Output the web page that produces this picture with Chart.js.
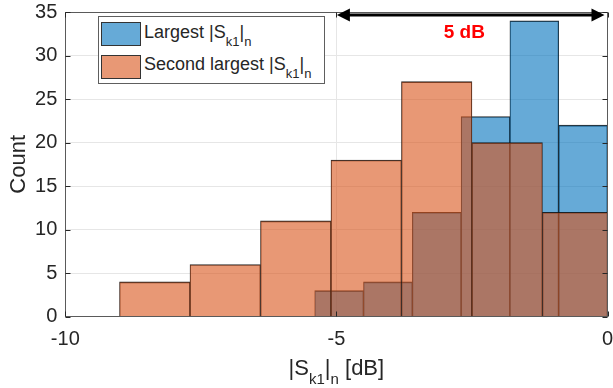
<!DOCTYPE html>
<html>
<head>
<meta charset="utf-8">
<script src="https://cdn.jsdelivr.net/npm/chart.js@4.4.0/dist/chart.umd.min.js"></script>
<style>
html,body{margin:0;padding:0;background:#fff;}
#wrap{position:relative;width:613px;height:388px;overflow:hidden;font-family:"Liberation Sans",Arial,Helvetica,sans-serif;color:#262626;}
#c{position:absolute;left:0;top:0;}
#legend{position:absolute;left:98px;top:16px;width:227px;height:68px;border:1px solid #5e5e5e;background:#fff;box-sizing:border-box;}
.sw{position:absolute;left:101px;width:40px;height:24px;box-sizing:border-box;border:1px solid #333;}
.item{position:absolute;left:144px;white-space:nowrap;font-size:18px;line-height:18px;}
.item sub{font-size:13px;vertical-align:-8px;line-height:0;}
#xtitle{position:absolute;top:357px;white-space:nowrap;font-size:22px;line-height:22px;transform:translateX(-50%);}
#xtitle sub{font-size:15px;vertical-align:-9px;line-height:0;}
</style>
</head>
<body>
<div id="wrap">
  <canvas id="c" width="613" height="388"></canvas>
  <div id="legend"></div>
  <div class="sw" id="sw1" style="top:22px;"></div>
  <div class="item" style="top:22.5px;">Largest |S<sub>k1</sub>|<sub>n</sub></div>
  <div class="sw" id="sw2" style="top:55px;"></div>
  <div class="item" style="top:54.8px;">Second largest |S<sub>k1</sub>|<sub>n</sub></div>
  <div id="xtitle">|S<sub>k1</sub>|<sub>n</sub> [dB]</div>
</div>
<script>
// ---- data ----
const largestEdges  = [-5.4, -4.5, -3.6, -2.7, -1.8, -0.9, 0];
const largestCounts = [3, 4, 12, 23, 34, 22];
const secondEdges   = [-9.0, -7.7, -6.4, -5.1, -3.8, -2.5, -1.2, 0.1];
const secondCounts  = [4, 6, 11, 18, 27, 20, 12];
const xTickValues = [-10, -5, 0];
const yTickValues = [0, 5, 10, 15, 20, 25, 30, 35];
const spanFrom = -5, spanTo = 0;   // "5 dB" arrow span
const spanLabel = '5 dB';

const blueFill = 'rgba(0,114,189,0.6)';
const orangeFill = 'rgba(217,83,25,0.6)';
document.getElementById('sw1').style.background = blueFill;
document.getElementById('sw2').style.background = orangeFill;

function toBars(edges, counts) {
  return counts.map((c, i) => ({ x: (edges[i] + edges[i + 1]) / 2, y: c }));
}

const boxPlugin = {
  id: 'box',
  afterDatasetsDraw(chart) {
    const { ctx, chartArea: a } = chart;
    const xs = chart.scales.x, ys = chart.scales.y;
    const L = Math.round(a.left) + 0.5, R = Math.round(a.right) - 0.5;
    const T = Math.round(a.top) + 0.5, B = Math.round(a.bottom) - 0.5;
    ctx.save();
    ctx.strokeStyle = '#5a5a5a';
    ctx.lineWidth = 1;
    ctx.strokeRect(L, T, R - L, B - T);
    const tl = 5;
    ctx.strokeStyle = '#262626';
    ctx.beginPath();
    yTickValues.forEach(v => {
      const y = Math.round(ys.getPixelForValue(v)) + 0.5;
      ctx.moveTo(L, y); ctx.lineTo(L + tl, y);
      ctx.moveTo(R, y); ctx.lineTo(R - tl, y);
    });
    xTickValues.forEach(v => {
      const x = Math.round(xs.getPixelForValue(v)) + 0.5;
      ctx.moveTo(x, B); ctx.lineTo(x, B - tl);
      ctx.moveTo(x, T); ctx.lineTo(x, T + tl);
    });
    ctx.stroke();
    ctx.restore();
  },
  afterDraw(chart) {
    const { ctx } = chart;
    const xs = chart.scales.x, ys = chart.scales.y;
    const x1 = xs.getPixelForValue(spanFrom) + 0.5;
    const x2 = xs.getPixelForValue(spanTo) - 3;
    const y = ys.getPixelForValue(34.65);
    const hl = 13, hw = 6.5;
    ctx.save();
    ctx.strokeStyle = '#000';
    ctx.fillStyle = '#000';
    ctx.lineWidth = 3;
    ctx.beginPath();
    ctx.moveTo(x1 + hl - 1, y); ctx.lineTo(x2 - hl + 1, y);
    ctx.stroke();
    ctx.beginPath();
    ctx.moveTo(x1, y); ctx.lineTo(x1 + hl, y - hw); ctx.lineTo(x1 + hl, y + hw); ctx.closePath();
    ctx.moveTo(x2, y); ctx.lineTo(x2 - hl, y - hw); ctx.lineTo(x2 - hl, y + hw); ctx.closePath();
    ctx.fill();
    ctx.fillStyle = '#ff0000';
    ctx.font = 'bold 19px "Liberation Sans", Arial, sans-serif';
    ctx.textAlign = 'center';
    ctx.textBaseline = 'middle';
    ctx.fillText(spanLabel, xs.getPixelForValue(-2.64), ys.getPixelForValue(32.6));
    ctx.restore();
  }
};

const barBorder = { top: 1, left: 0.6, right: 0.6, bottom: 0 };

const chart = new Chart(document.getElementById('c'), {
  type: 'bar',
  data: {
    datasets: [
      {
        label: 'Second largest |Sk1|n',
        data: toBars(secondEdges, secondCounts),
        xAxisID: 'x2',
        backgroundColor: orangeFill,
        borderColor: 'rgba(20,20,20,0.9)',
        borderWidth: barBorder,
        borderSkipped: false,
        barPercentage: 1,
        categoryPercentage: 1,
        grouped: false,
        clip: 0
      },
      {
        label: 'Largest |Sk1|n',
        data: toBars(largestEdges, largestCounts),
        xAxisID: 'x',
        backgroundColor: blueFill,
        borderColor: 'rgba(20,20,20,0.9)',
        borderWidth: barBorder,
        borderSkipped: false,
        barPercentage: 1,
        categoryPercentage: 1,
        grouped: false,
        clip: 0
      }
    ]
  },
  options: {
    responsive: false,
    animation: false,
    devicePixelRatio: 1,
    layout: { padding: { top: 12, right: 5.5, left: 0, bottom: 0 } },
    plugins: { legend: { display: false }, tooltip: { enabled: false } },
    scales: {
      x: {
        type: 'linear',
        min: -10, max: 0,
        offset: false,
        afterBuildTicks: s => { s.ticks = xTickValues.map(v => ({ value: v })); },
        afterFit: s => { s.height = 71.3; s.paddingLeft = 0; s.paddingRight = 0; },
        grid: { color: '#e6e6e6', drawTicks: false, offset: false },
        border: { display: false },
        ticks: { color: '#262626', font: { size: 20, family: '"Liberation Sans", Arial, sans-serif' }, padding: 11, maxRotation: 0, autoSkip: false }
      },
      x2: {
        type: 'linear',
        min: -10, max: 0,
        offset: false,
        display: false,
        grid: { offset: false },
        afterBuildTicks: s => { s.ticks = xTickValues.map(v => ({ value: v })); },
        afterFit: s => { s.paddingLeft = 0; s.paddingRight = 0; }
      },
      y: {
        type: 'linear',
        min: 0, max: 35,
        afterBuildTicks: s => { s.ticks = yTickValues.map(v => ({ value: v })); },
        afterFit: s => { s.width = 65.3; s.paddingTop = 0; s.paddingBottom = 0; },
        grid: { color: '#e6e6e6', drawTicks: false },
        border: { display: false },
        ticks: { color: '#262626', font: { size: 20, family: '"Liberation Sans", Arial, sans-serif' }, padding: 8 },
        title: { display: true, text: 'Count', color: '#262626', font: { size: 22, family: '"Liberation Sans", Arial, sans-serif' }, padding: { top: 6, bottom: 0 } }
      }
    }
  },
  plugins: [boxPlugin]
});

const xt = document.getElementById('xtitle');
xt.style.left = chart.scales.x.getPixelForValue(-5) + 'px';
</script>
</body>
</html>
